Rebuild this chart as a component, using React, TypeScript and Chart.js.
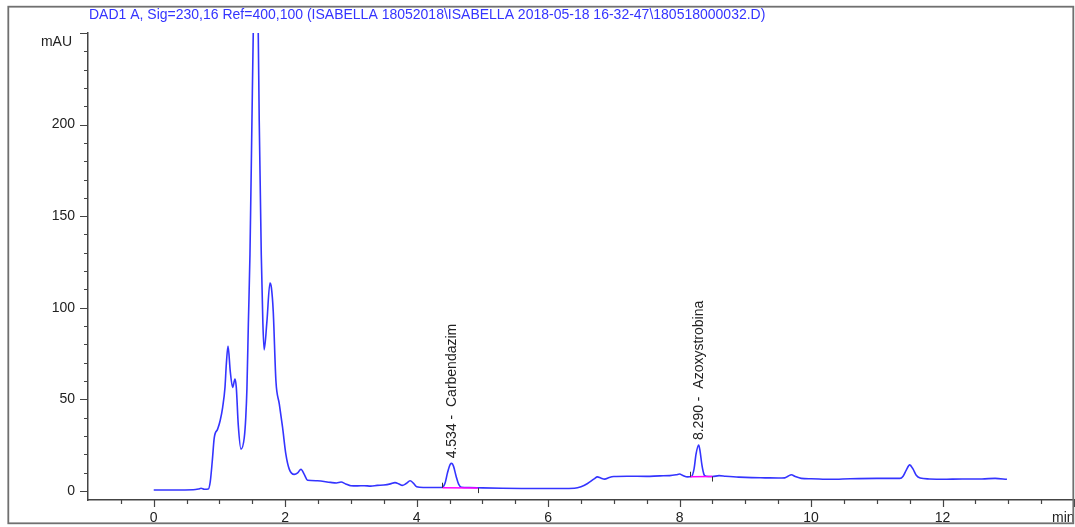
import React, { useEffect, useRef } from "react";
import { Chart, registerables } from "chart.js";

Chart.register(...registerables);

// ---- data ----
const times = [
  0.0, 0.3, 0.6, 0.68, 0.72, 0.77, 0.83, 0.86, 0.89, 0.921, 0.972, 1.01, 1.048, 1.084, 1.104, 1.13,
  1.165, 1.2, 1.236, 1.256, 1.286, 1.327, 1.377, 1.4, 1.418, 1.44, 1.464, 1.494, 1.514, 1.54, 1.555,
  1.57, 1.59, 1.605, 1.636, 1.66, 1.68, 1.722, 1.768, 1.79, 1.818, 1.859, 1.91, 1.96, 2.01, 2.06,
  2.137, 2.19, 2.24, 2.29, 2.34, 2.49, 2.69, 2.78, 2.85, 2.92, 3.0, 3.1, 3.2, 3.3, 3.4, 3.5, 3.6,
  3.67, 3.74, 3.78, 3.84, 3.9, 3.95, 4.0, 4.1, 4.2, 4.3, 4.38, 4.43, 4.47, 4.51, 4.534, 4.56, 4.6,
  4.64, 4.68, 4.8, 5.0, 5.3, 5.6, 5.9, 6.2, 6.4, 6.5, 6.6, 6.7, 6.75, 6.8, 6.86, 6.93, 7.0, 7.2,
  7.5, 7.7, 7.85, 7.95, 8.0, 8.05, 8.12, 8.18, 8.22, 8.25, 8.29, 8.31, 8.34, 8.37, 8.4, 8.5, 8.6,
  8.7, 8.9, 9.1, 9.3, 9.5, 9.6, 9.65, 9.7, 9.76, 9.85, 10.0, 10.3, 10.6, 11.0, 11.35, 11.4, 11.45,
  11.5, 11.55, 11.6, 11.66, 11.8, 12.0, 12.3, 12.6, 12.8, 12.98,
];
const signal = [
  0.5, 0.5, 0.6, 1.0, 1.4, 0.9, 1.0, 5, 16, 29, 33.7, 38.3, 45.5, 56.5, 69, 79,
  65, 56.5, 61, 56.5, 36, 22.8, 29, 40, 56, 92, 129, 202, 250, 300, 320,
  300, 250, 202, 129, 92, 77, 92.5, 113.5, 111, 98, 60, 47.5, 34.6, 20, 12,
  9, 9.8, 11.8, 9, 5.8, 5.5, 4.6, 4.3, 4.8, 3.8, 2.8, 2.7, 2.8, 2.6, 3.0, 3.2, 3.8,
  4.5, 3.6, 3.0, 4.0, 5.5, 4.2, 2.2, 1.8, 1.8, 1.8, 1.8, 4, 10, 14.5, 15, 13.5, 8,
  3.5, 2.0, 1.8, 1.6, 1.4, 1.3, 1.3, 1.3, 1.4, 2.2, 4, 6.5, 7.6, 7.0, 6.4, 7.3, 7.8, 8.0,
  7.9, 8.2, 8.3, 8.8, 9.2, 8.4, 7.6, 7.8, 12, 20, 25, 22, 14, 9, 8.0, 7.8, 8.3,
  8.0, 7.5, 7.2, 7.1, 7.0, 7.1, 8.0, 8.8, 7.8, 6.8, 6.6, 6.3, 6.6, 6.8, 6.8, 8, 11.5,
  14.2, 12, 8.5, 7.0, 6.5, 6.3, 6.5, 6.5, 6.8, 6.3,
];

const peakRT = [4.534, 8.29];
const peakTop = [15, 25];
const peakNames = ["Carbendazim", "Azoxystrobina"];

const intStart = [4.39, 8.16];
const intEnd = [4.93, 8.5];
const intStartLevel = [1.7, 7.7];
const intEndLevel = [1.5, 7.8];

const xTickValues = [0, 2, 4, 6, 8, 10, 12];
const yTickValues = [0, 50, 100, 150, 200];

const titleText =
  "DAD1 A, Sig=230,16 Ref=400,100 (ISABELLA 18052018\\ISABELLA 2018-05-18 16-32-47\\180518000032.D)";
const yUnit = "mAU";
const xUnit = "min";

const FONT = "'Liberation Sans', Arial, sans-serif";
const BLUE = "rgb(52,52,255)";

const overlayPlugin = {
  id: "overlay",
  afterDraw(chart: any) {
    const ctx = chart.ctx;
    const xs = chart.scales.x;
    const ys = chart.scales.y;
    const { left, bottom } = chart.chartArea;
    ctx.save();

    // axis tick marks
    ctx.strokeStyle = "#444";
    ctx.lineWidth = 1.2;
    ctx.beginPath();
    for (let v = 0; v <= 250; v += 10) {
      const y = Math.round(ys.getPixelForValue(v)) + 0.5;
      const len = v % 50 === 0 ? 8 : 4;
      ctx.moveTo(left - len, y);
      ctx.lineTo(left, y);
    }
    for (let t = -0.5; t <= 14; t += 0.5) {
      const x = Math.round(xs.getPixelForValue(t)) + 0.5;
      const len = t % 2 === 0 ? 7 : 4;
      ctx.moveTo(x, bottom);
      ctx.lineTo(x, bottom + len);
    }
    ctx.stroke();

    // integration event ticks
    ctx.strokeStyle = "#333";
    ctx.lineWidth = 1;
    ctx.beginPath();
    for (let i = 0; i < intStart.length; i++) {
      const xa = Math.round(xs.getPixelForValue(intStart[i])) + 0.5;
      const ya = ys.getPixelForValue(intStartLevel[i]);
      ctx.moveTo(xa, ya);
      ctx.lineTo(xa, ya - 5);
      const xb = Math.round(xs.getPixelForValue(intEnd[i])) + 0.5;
      const yb = ys.getPixelForValue(intEndLevel[i]);
      ctx.moveTo(xb, yb);
      ctx.lineTo(xb, yb + 5);
    }
    ctx.stroke();

    // peak labels
    ctx.fillStyle = "#222";
    ctx.font = `14px ${FONT}`;
    ctx.textAlign = "left";
    ctx.textBaseline = "middle";
    for (let i = 0; i < peakRT.length; i++) {
      const x = xs.getPixelForValue(peakRT[i]);
      const y = ys.getPixelForValue(peakTop[i]) - 5;
      ctx.save();
      ctx.translate(x, y);
      ctx.rotate(-Math.PI / 2);
      ctx.fillText(`${peakRT[i].toFixed(3)} -  ${peakNames[i]}`, 0, 0);
      ctx.restore();
    }

    // units
    ctx.fillStyle = "#222";
    ctx.textAlign = "right";
    ctx.fillText(yUnit, 72, 42);
    ctx.textAlign = "left";
    ctx.fillText(xUnit, 1052, 518);

    // title
    ctx.fillStyle = BLUE;
    ctx.fillText(titleText, 89, 15.5);

    // frame
    ctx.strokeStyle = "#707070";
    ctx.lineWidth = 1.8;
    ctx.strokeRect(8.3, 6.7, 1065, 516.6);

    ctx.restore();
  },
};

export default function App() {
  const ref = useRef<HTMLCanvasElement | null>(null);

  useEffect(() => {
    if (!ref.current) return;
    const trace = times.map((t, i) => ({ x: t, y: signal[i] }));
    const baselines = intStart.map((s, i) => ({
      label: `base${i}`,
      data: [
        { x: s, y: intStartLevel[i] },
        { x: intEnd[i], y: intEndLevel[i] },
      ],
      borderColor: "#ff00ff",
      borderWidth: 1.5,
      pointRadius: 0,
      order: 0,
    }));
    const chart = new Chart(ref.current, {
      type: "line",
      data: {
        datasets: [
          {
            label: "DAD1 A",
            data: trace,
            borderColor: BLUE,
            borderWidth: 1.6,
            pointRadius: 0,
            cubicInterpolationMode: "monotone",
            order: 1,
          },
          ...baselines,
        ],
      },
      options: {
        responsive: false,
        animation: false,
        layout: { padding: { top: 33, left: 0, right: 1, bottom: 0 } },
        plugins: {
          legend: { display: false },
          tooltip: { enabled: false },
          title: { display: false },
        },
        scales: {
          x: {
            type: "linear",
            min: -1,
            max: 14,
            grid: { display: false, drawTicks: false },
            border: { display: true, color: "#444", width: 1.5 },
            ticks: {
              padding: 10,
              color: "#222",
              font: { family: FONT, size: 14 },
              maxRotation: 0,
              autoSkip: false,
            },
            afterBuildTicks: (s: any) => {
              s.ticks = xTickValues.map((v) => ({ value: v }));
            },
            afterFit: (s: any) => {
              s.height = 27;
            },
          },
          y: {
            type: "linear",
            min: -5,
            max: 250,
            grid: { display: false, drawTicks: false },
            border: { display: true, color: "#444", width: 1.5 },
            ticks: {
              padding: 13,
              color: "#222",
              font: { family: FONT, size: 14 },
              autoSkip: false,
            },
            afterBuildTicks: (s: any) => {
              s.ticks = yTickValues.map((v) => ({ value: v }));
            },
            afterFit: (s: any) => {
              s.width = 88;
            },
          },
        },
      },
      plugins: [overlayPlugin],
    } as any);
    return () => chart.destroy();
  }, []);

  return (
    <canvas
      ref={ref}
      width={1075}
      height={527}
      style={{ position: "fixed", left: 0, top: 0, background: "#fff" }}
    />
  );
}
